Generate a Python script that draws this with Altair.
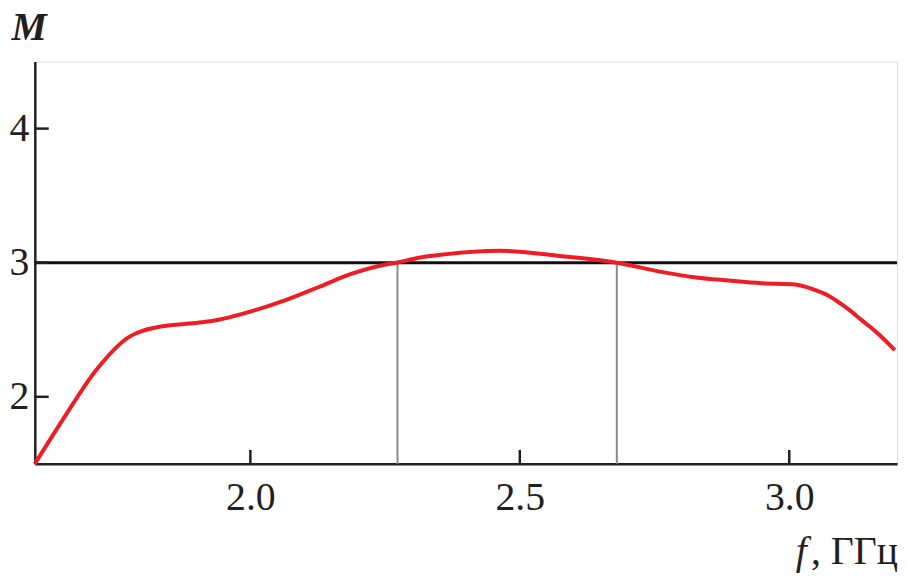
import altair as alt
import pandas as pd

# curve M(f)
f_vals = [1.600, 1.652, 1.714, 1.775, 1.837, 1.898, 1.941, 2.003, 2.064, 2.126,
          2.187, 2.249, 2.273, 2.310, 2.360, 2.462, 2.570, 2.680, 2.765, 2.827,
          2.888, 2.950, 3.011, 3.042, 3.072, 3.104, 3.135, 3.165, 3.196]
m_vals = [1.50, 1.83, 2.20, 2.447, 2.526, 2.55, 2.575, 2.639, 2.719, 2.817,
          2.916, 2.985, 3.002, 3.035, 3.062, 3.089, 3.052, 3.00, 2.93, 2.89,
          2.867, 2.847, 2.837, 2.805, 2.756, 2.67, 2.57, 2.47, 2.348]

level = 3.0
f_range = [1.6, 3.2]
m_range = [1.5, 4.5]
cross_f = [2.273, 2.680]
x_ticks = [2.0, 2.5, 3.0]
y_ticks = [2, 3, 4]

W, H = 868, 405
FONT = "Liberation Serif"

curve = pd.DataFrame({"f": f_vals, "M": m_vals})
hline = pd.DataFrame({"f": [f_range[0]], "f2": [f_range[1]], "M": [level]})
vlines = pd.DataFrame({"f": cross_f, "M0": [m_range[0]] * 2, "M1": [level] * 2})
xt = pd.DataFrame({"f": x_ticks})
yt = pd.DataFrame({"M": y_ticks})

xs = alt.Scale(domain=f_range, nice=False, zero=False)
ys = alt.Scale(domain=m_range, nice=False, zero=False)

xaxis = alt.Axis(values=x_ticks, format=".1f", title=None, labelFontSize=40,
                 labelFont=FONT, labelColor="#231f20", labelPadding=14,
                 ticks=False, domainColor="#231f20", domainWidth=2.5, grid=False)
yaxis = alt.Axis(values=y_ticks, format="d", title="M", labelFontSize=40,
                 labelFont=FONT, labelColor="#231f20", labelPadding=6,
                 ticks=False, domainColor="#231f20", domainWidth=2.5, grid=False,
                 titleAngle=0, titleX=-24, titleY=-22, titleAlign="left",
                 titleBaseline="alphabetic", titleFont=FONT, titleFontSize=40,
                 titleFontStyle="italic", titleFontWeight="bold", titleColor="#231f20")

base_axes = alt.Chart(curve).mark_line(opacity=0).encode(
    x=alt.X("f:Q", scale=xs, axis=xaxis),
    y=alt.Y("M:Q", scale=ys, axis=yaxis),
)

vl = alt.Chart(vlines).mark_rule(color="#8a8a8a", strokeWidth=2).encode(
    x=alt.X("f:Q", scale=xs), y=alt.Y("M0:Q", scale=ys), y2="M1:Q")

hl = alt.Chart(hline).mark_rule(color="#111111", strokeWidth=3).encode(
    x=alt.X("f:Q", scale=xs), x2="f2:Q", y=alt.Y("M:Q", scale=ys))

line = alt.Chart(curve).mark_line(color="#ee1c25", strokeWidth=4,
                                  interpolate="monotone").encode(
    x=alt.X("f:Q", scale=xs), y=alt.Y("M:Q", scale=ys))

xtk = alt.Chart(xt).mark_rule(color="#231f20", strokeWidth=2.5).encode(
    x=alt.X("f:Q", scale=xs), y=alt.value(H), y2=alt.value(H - 14))
ytk = alt.Chart(yt).mark_rule(color="#231f20", strokeWidth=2.5).encode(
    y=alt.Y("M:Q", scale=ys), x=alt.value(0), x2=alt.value(14))

t_f = alt.Chart(pd.DataFrame({"t": ["f"]})).mark_text(
    font=FONT, fontSize=40, fontStyle="italic", align="left",
    baseline="alphabetic", color="#231f20").encode(
    text="t:N", x=alt.value(766), y=alt.value(H + 101))
t_u = alt.Chart(pd.DataFrame({"t": [", ГГц"]})).mark_text(
    font=FONT, fontSize=40, align="right",
    baseline="alphabetic", color="#231f20").encode(
    text="t:N", x=alt.value(W + 1), y=alt.value(H + 101))

chart = alt.layer(base_axes, vl, hl, line, xtk, ytk, t_f, t_u).properties(
    width=W, height=H,
    autosize=alt.AutoSizeParams(type="none"),
    padding={"left": 27, "top": 52, "right": 2, "bottom": 112},
).configure_view(stroke=None).configure(background="white")

chart.save("out.html", embed_options={"renderer": "svg", "actions": False})
